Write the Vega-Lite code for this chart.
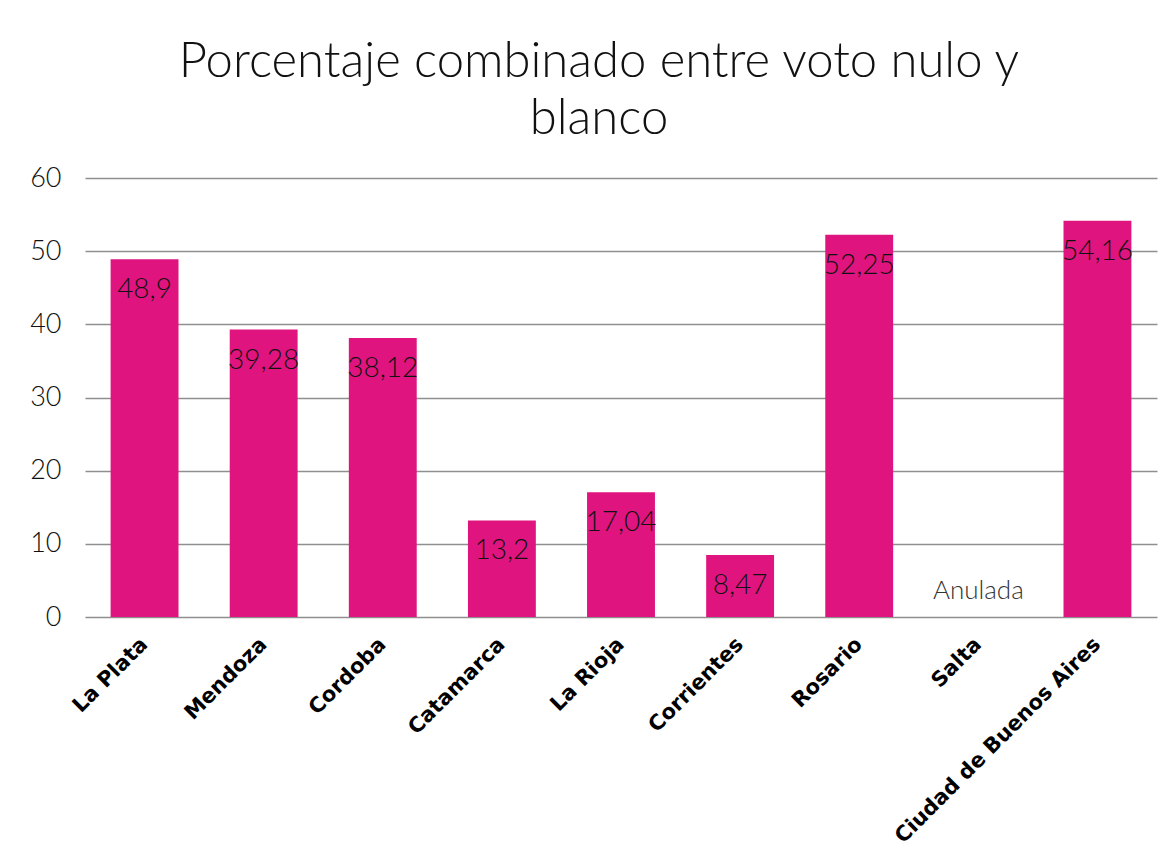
{
  "$schema": "https://vega.github.io/schema/vega-lite/v6.json",
  "autosize": {"type": "none"},
  "padding": {"left": 85, "top": 178, "right": 19, "bottom": 251},
  "width": 1072,
  "height": 439,
  "background": "white",
  "title": {
    "text": ["Porcentaje combinado entre voto nulo y", "blanco"],
    "font": "Lato",
    "fontWeight": 300,
    "fontSize": 49,
    "color": "#111111",
    "anchor": "middle",
    "dx": -22,
    "lineHeight": 57,
    "offset": 20
  },
  "data": {
    "values": [
      {"ciudad": "La Plata", "valor": 48.9, "etiqueta": "48,9"},
      {"ciudad": "Mendoza", "valor": 39.28, "etiqueta": "39,28"},
      {"ciudad": "Cordoba", "valor": 38.12, "etiqueta": "38,12"},
      {"ciudad": "Catamarca", "valor": 13.2, "etiqueta": "13,2"},
      {"ciudad": "La Rioja", "valor": 17.04, "etiqueta": "17,04"},
      {"ciudad": "Corrientes", "valor": 8.47, "etiqueta": "8,47"},
      {"ciudad": "Rosario", "valor": 52.25, "etiqueta": "52,25"},
      {"ciudad": "Salta", "valor": null, "etiqueta": "Anulada"},
      {"ciudad": "Ciudad de Buenos Aires", "valor": 54.16, "etiqueta": "54,16"}
    ]
  },
  "encoding": {
    "x": {
      "field": "ciudad",
      "type": "nominal",
      "sort": ["La Plata", "Mendoza", "Cordoba", "Catamarca", "La Rioja", "Corrientes", "Rosario", "Salta", "Ciudad de Buenos Aires"],
      "scale": {"paddingInner": 0.43, "paddingOuter": 0.215},
      "axis": {
        "title": null,
        "labelAngle": -45,
        "labelAlign": "right",
        "labelBaseline": "middle",
        "labelFont": "DejaVu Sans",
        "labelFontWeight": "bold",
        "labelFontSize": 21,
        "labelColor": "#000000",
        "labelPadding": 24,
        "ticks": false,
        "domain": false,
        "labelLimit": 400
      }
    }
  },
  "layer": [
    {
      "mark": {"type": "bar", "color": "#E0147E"},
      "encoding": {
        "y": {
          "field": "valor",
          "type": "quantitative",
          "scale": {"domain": [0, 60], "nice": false},
          "axis": {
            "title": null,
            "values": [0, 10, 20, 30, 40, 50, 60],
            "labelFont": "Lato",
            "labelFontWeight": 300,
            "labelFontSize": 27,
            "labelColor": "#111111",
            "labelPadding": 24,
            "ticks": false,
            "domain": false,
            "grid": true,
            "gridColor": "#8f8f8f",
            "gridWidth": 1.5
          }
        }
      }
    },
    {
      "transform": [{"filter": "datum.valor != null"}],
      "mark": {
        "type": "text",
        "font": "Lato",
        "fontWeight": 300,
        "fontSize": 28,
        "color": "#111111",
        "baseline": "alphabetic",
        "dy": 39
      },
      "encoding": {
        "y": {"field": "valor", "type": "quantitative"},
        "text": {"field": "etiqueta"}
      }
    },
    {
      "transform": [{"filter": "datum.valor == null"}],
      "mark": {
        "type": "text",
        "font": "Lato",
        "fontWeight": 300,
        "fontSize": 26,
        "color": "#333333",
        "baseline": "alphabetic",
        "dy": -18
      },
      "encoding": {
        "y": {"datum": 0, "type": "quantitative"},
        "text": {"field": "etiqueta"}
      }
    }
  ],
  "config": {"view": {"stroke": null}}
}
